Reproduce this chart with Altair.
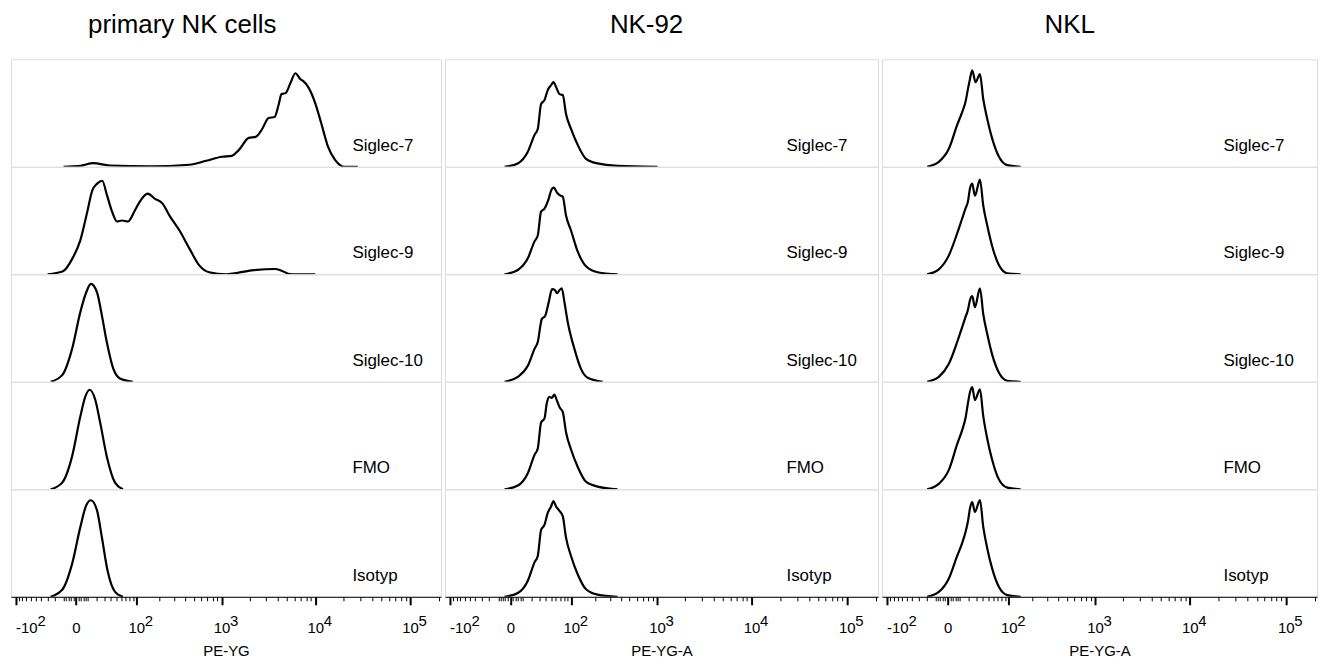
import altair as alt
import pandas as pd

samples = ["Siglec-7", "Siglec-9", "Siglec-10", "FMO", "Isotyp"]
panel_titles = ["primary NK cells", "NK-92", "NKL"]
axis_titles = ["PE-YG", "PE-YG-A", "PE-YG-A"]
panel_widths = [432, 435, 437]
title_dx = [-44, -15, -30]

major_ticks = [-100, 0, 100, 1000, 10000, 100000]
minor_ticks = [-90, -80, -70, -60, -50, -40, -30, -20, -10, -8, -6, -4, -2,
               2, 4, 6, 8, 10, 20, 30, 40, 50, 60, 70, 80, 90,
               200, 300, 400, 500, 600, 700, 800, 900,
               2000, 3000, 4000, 5000, 6000, 7000, 8000, 9000,
               20000, 30000, 40000, 50000, 60000, 70000, 80000, 90000, 200000]
# exponents of the decade labels
exp_pos_values = [100, 1000, 10000, 100000]
exp_pos_labels = ["2", "3", "4", "5"]
exp_neg_values = [-100]
exp_neg_labels = ["2"]

# ---- primary NK cells ----
p1_sig7_x = [-10.5, 3.4, 15.7, 38.7, 150, 441, 680, 1012, 1296, 1540, 1965, 2331, 2697, 3198, 3700,
             4077, 4386, 4830, 5451, 6150, 6945, 7464, 8419, 9969, 11530, 13640, 16150, 20560, 28100]
p1_sig7_y = [0, 0.9, 3.4, 1.2, 0.5, 1.9, 5.6, 9.3, 10.2, 15.7, 26.9, 27.8, 34.3, 45.4, 46.3,
             57.4, 67.6, 68.5, 77.8, 87.0, 81.5, 79.6, 74.1, 59.3, 40.7, 18.5, 6.5, 0, 0]
p1_sig9_x = [-29.6, -11.5, -2.6, 3.4, 9.6, 14.6, 20.3, 26.8, 34.0, 42.2, 51.4, 61.8, 76.1, 95.5,
             111.6, 141.6, 173, 216, 261, 341, 441, 569, 733, 1118, 2115, 3792, 5586, 9969]
p1_sig9_y = [0, 2.5, 14.8, 31.5, 58.3, 77.8, 84.3, 87.0, 73.1, 58.3, 49.1, 50.0, 49.1, 59.3,
             67.6, 75.0, 70.4, 65.7, 54.6, 40.7, 24.1, 8.3, 1.9, 0, 3.7, 4.9, 0, 0]
p1_sig10_x = [-25.4, -11.8, -2.9, 3.4, 8.6, 13.2, 20.0, 26.3, 33.5, 44.5, 57.5, 89.6]
p1_sig10_y = [0, 6.2, 30.6, 64.8, 83.3, 91.0, 83.3, 62.0, 37.0, 12.0, 3.1, 0]
p1_fmo_x = [-25.4, -11.8, -2.9, 3.4, 7.7, 11.8, 18.0, 24.1, 33.5, 47.6, 64]
p1_fmo_y = [0, 6.2, 30.6, 67.6, 86.1, 92.6, 83.3, 62.0, 30.6, 6.2, 0]
p1_iso_x = [-25.4, -11.8, -2.9, 3.4, 8.6, 13.2, 20.0, 26.3, 34.5, 47.6, 64]
p1_iso_y = [0, 6.5, 30.6, 64.8, 85.2, 89.8, 80.6, 55.6, 25.0, 4.6, 0]

# ---- NK-92 ----
p2_sig7_x = [-4.5, 5.9, 15.7, 23.7, 28.1, 32.9, 38.3, 43.9, 50.1, 54.8, 60.3, 68.0, 76.1, 84.8,
             99.5, 122, 156, 216, 368, 1012]
p2_sig7_y = [0, 3.1, 13.9, 29.6, 35.2, 58.3, 62.0, 71.3, 75.9, 78.7, 74.1, 67.6, 66.7, 49.1,
             35.2, 20.4, 7.4, 3.1, 0.9, 0]
p2_sig9_x = [-4.5, 5.9, 15.7, 23.7, 28.1, 32.9, 38.3, 45.7, 50.1, 55.4, 62.5, 70.4, 76.1, 84.8,
             99.5, 122, 156, 216, 368]
p2_sig9_y = [0, 4.0, 14.8, 30.6, 36.1, 58.3, 61.1, 70.4, 77.8, 80.6, 75.9, 73.1, 72.2, 54.6,
             40.7, 21.3, 7.4, 1.9, 0]
p2_sig10_x = [-4.5, 5.9, 15.7, 23.7, 28.1, 34.0, 39.3, 45.7, 52.0, 58.1, 62.5, 68.0, 73.6, 80.5,
              89.6, 110.6, 134.7, 163.6, 248]
p2_sig10_y = [0, 4.6, 14.8, 30.6, 37.0, 58.3, 61.1, 74.1, 86.1, 85.2, 82.4, 85.2, 87.0, 74.1,
              55.6, 30.6, 12.0, 3.7, 0]
p2_fmo_x = [-4.5, 5.9, 15.7, 23.7, 28.1, 32.9, 38.3, 42.2, 46.7, 51.4, 56.5, 61.8, 68.7, 76.1,
            84.8, 99.5, 122, 156, 216, 368]
p2_fmo_y = [0, 3.5, 15, 32, 38, 62, 66, 80, 86, 85, 88, 83, 76, 72,
            53, 37, 21, 7, 2.5, 0]
p2_iso_x = [-4.5, 5.9, 15.7, 23.7, 28.1, 32.9, 38.3, 43.9, 50.1, 54.8, 60.3, 68.0, 76.1, 84.8,
            99.5, 122, 156, 216, 368]
p2_iso_y = [0, 3.5, 15, 32, 38, 62, 67, 78, 84, 89, 84, 80, 75, 55,
            38, 21, 7, 2, 0]

# ---- NKL ----
p3_sig7_x = [-19.1, -7.1, 0.88, 7.7, 12.5, 16.0, 18.8, 21.2, 24.1, 28.6, 35.1, 40.5, 47.6, 57.5,
             72.8, 95.5, 143]
p3_sig7_y = [0, 4.6, 16.7, 38.9, 50.9, 60.2, 72.2, 81.5, 89.8, 78.7, 86.1, 63.0, 44.4, 25.9,
             9.3, 1.5, 0]
p3_sig9_x = [-19.1, -7.1, 0.88, 7.7, 12.5, 16.0, 18.8, 21.2, 24.1, 27.7, 35.1, 40.5, 47.6, 57.5,
             72.8, 95.5, 143]
p3_sig9_y = [0, 4.6, 17.6, 38.0, 51.9, 61.1, 67.6, 79.6, 84.3, 73.1, 88.0, 63.9, 45.4, 25.9,
             8.3, 0.9, 0]
p3_sig10_x = [-19.1, -7.1, 0.88, 7.7, 12.5, 16.0, 18.8, 21.2, 24.1, 27.7, 35.1, 40.5, 47.6, 57.5,
              72.8, 95.5, 143]
p3_sig10_y = [0, 4.6, 16.7, 37.0, 50.9, 60.2, 66.7, 75.9, 79.6, 69.4, 87.0, 63.0, 44.4, 25.0,
              8.3, 0.9, 0]
p3_fmo_x = [-19.1, -7.1, 0.88, 7.7, 12.5, 16.0, 18.8, 21.2, 24.1, 27.7, 35.1, 40.5, 47.6, 57.5,
            72.8, 95.5, 143]
p3_fmo_y = [0, 5, 18, 42, 55, 66, 80, 90, 95, 83, 93, 68, 47, 27,
            9, 1.5, 0]
p3_iso_x = [-19.1, -7.1, 0.88, 7.7, 12.5, 16.0, 18.8, 21.2, 24.1, 27.7, 35.1, 40.5, 47.6, 57.5,
            72.8, 95.5, 143]
p3_iso_y = [0, 4.5, 17, 38, 50, 60, 70, 82, 88, 79, 90, 65, 45, 26,
            9, 1.5, 0]

panels_x = [
    [p1_sig7_x, p1_sig9_x, p1_sig10_x, p1_fmo_x, p1_iso_x],
    [p2_sig7_x, p2_sig9_x, p2_sig10_x, p2_fmo_x, p2_iso_x],
    [p3_sig7_x, p3_sig9_x, p3_sig10_x, p3_fmo_x, p3_iso_x],
]
panels_y = [
    [p1_sig7_y, p1_sig9_y, p1_sig10_y, p1_fmo_y, p1_iso_y],
    [p2_sig7_y, p2_sig9_y, p2_sig10_y, p2_fmo_y, p2_iso_y],
    [p3_sig7_y, p3_sig9_y, p3_sig10_y, p3_fmo_y, p3_iso_y],
]

FONT = "Liberation Sans"
ROW_H = 108
LABEL_SIZE = 15
tick_values = sorted(major_ticks + minor_ticks)
major_test = "indexof([" + ",".join(str(v) for v in major_ticks) + "], datum.value) >= 0"
label_expr = (
    "datum.value == 0 ? '0' : datum.value == -100 ? '-10' : "
    "indexof([100, 1000, 10000, 100000], datum.value) >= 0 ? '10' : ''"
)
x_scale = alt.Scale(type="symlog", constant=30, domain=[-115, 212000])
exp_pos_df = pd.DataFrame({"v": exp_pos_values, "e": exp_pos_labels})
exp_neg_df = pd.DataFrame({"v": exp_neg_values, "e": exp_neg_labels})


def make_axis(i):
    return alt.Axis(
        values=tick_values,
        labelExpr=label_expr,
        title=axis_titles[i],
        titleFont=FONT,
        titleFontSize=15,
        titleFontWeight="normal",
        titleColor="black",
        titlePadding=8,
        labelFont=FONT,
        labelFontSize=LABEL_SIZE,
        labelColor="black",
        labelPadding=16,
        labelOverlap=False,
        labelSeparation=0,
        labelFlush=8,
        grid=False,
        domain=True,
        domainColor="black",
        domainWidth=1,
        tickColor="black",
        tickSize={"condition": {"test": major_test, "value": 8}, "value": 4},
        tickWidth={"condition": {"test": major_test, "value": 2}, "value": 1},
    )


def make_row(i, j, df):
    s = samples[j]
    last = j == len(samples) - 1
    axis = make_axis(i) if last else None
    line = alt.Chart(df).transform_filter(alt.datum.sample == s).mark_line(
        color="black", strokeWidth=2.2, interpolate="monotone", clip=True
    ).encode(
        x=alt.X("x:Q", scale=x_scale, axis=axis),
        y=alt.Y("y:Q", scale=alt.Scale(domain=[0, 100]), axis=None),
    )
    text = alt.Chart(df).transform_filter(alt.datum.sample == s).transform_aggregate(
        n="count()", groupby=["sample"]
    ).mark_text(
        align="left", baseline="alphabetic", font=FONT, fontSize=17, color="black"
    ).encode(
        x=alt.value(343), y=alt.value(ROW_H - 16), text="sample:N"
    )
    layers = [line, text]
    if last:
        exp_pos = alt.Chart(exp_pos_df).mark_text(
            align="left", baseline="top", font=FONT, fontSize=LABEL_SIZE, color="black", dx=8.5
        ).encode(x=alt.X("v:Q", scale=x_scale, axis=make_axis(i)), y=alt.value(ROW_H + 17), text="e:N")
        exp_neg = alt.Chart(exp_neg_df).mark_text(
            align="left", baseline="top", font=FONT, fontSize=LABEL_SIZE, color="black", dx=22
        ).encode(x=alt.X("v:Q", scale=x_scale, axis=make_axis(i)), y=alt.value(ROW_H + 17), text="e:N")
        layers += [exp_pos, exp_neg]
    return alt.layer(*layers).properties(width=panel_widths[i], height=ROW_H)


def make_panel(i):
    rows = []
    for s, xs, ys in zip(samples, panels_x[i], panels_y[i]):
        for xv, yv in zip(xs, ys):
            rows.append({"sample": s, "x": xv, "y": yv})
    df = pd.DataFrame(rows)
    return alt.vconcat(
        *[make_row(i, j, df) for j in range(len(samples))], spacing=0, bounds="flush"
    ).properties(
        title=alt.TitleParams(
            text=panel_titles[i], font=FONT, fontSize=26, fontWeight="normal",
            color="black", anchor="middle", dx=title_dx[i], baseline="alphabetic", offset=0,
        )
    )


chart = alt.hconcat(*[make_panel(i) for i in range(3)], spacing=2).properties(
    padding={"left": 2, "top": 2, "right": 0, "bottom": 0}
).configure_view(stroke="#707070", strokeWidth=1).configure(font=FONT)

chart.save("out.html", embed_options={"renderer": "svg", "actions": False})
